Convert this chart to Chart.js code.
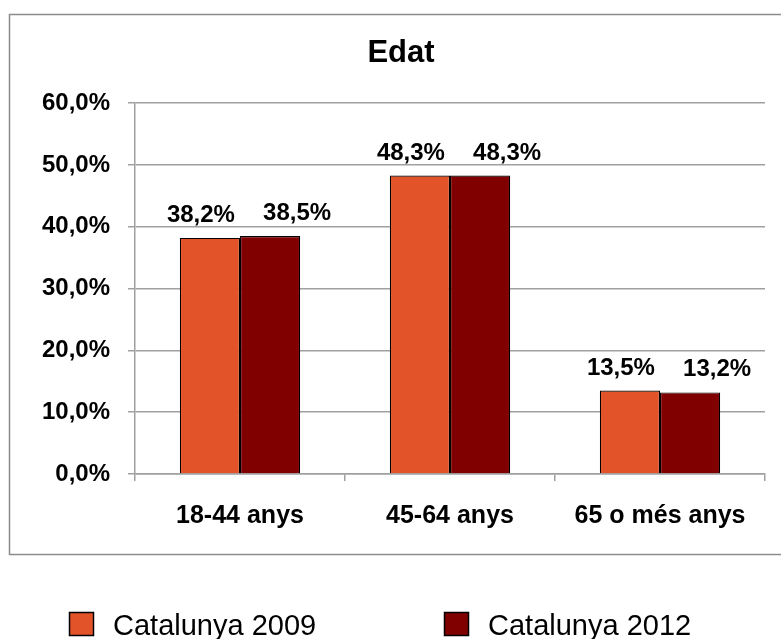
<!DOCTYPE html>
<html>
<head>
<meta charset="utf-8">
<script src="https://cdn.jsdelivr.net/npm/chart.js@4.4.1/dist/chart.umd.min.js"></script>
<style>
  html, body { margin: 0; padding: 0; background: #fff; }
  #wrap { width: 781px; height: 639px; position: relative; }
</style>
</head>
<body>
<div id="wrap"><canvas id="chart"></canvas></div>
<script>
const categories = ['18-44 anys', '45-64 anys', '65 o més anys'];
const seriesNames = ['Catalunya 2009', 'Catalunya 2012'];
const values2009 = [38.2, 48.3, 13.5];
const values2012 = [38.5, 48.3, 13.2];
const colors = ['#E2532A', '#800000'];

const FONT = '"Liberation Sans", Arial, sans-serif';

function pct(v) {
    return v.toFixed(1).replace('.', ',') + '%';
}

// outer frame, value labels and legend
const extras = {
    id: 'extras',
    beforeDraw(chart) {
        const ctx = chart.ctx;
        ctx.save();
        ctx.strokeStyle = '#8c8c8c';
        ctx.lineWidth = 1.5;
        ctx.strokeRect(9.5, 14.5, 800, 540);
        ctx.restore();
    },
    afterDatasetsDraw(chart) {
        const ctx = chart.ctx;
        // labels are pushed apart so neighbours don't collide
        const nudge = [-9, 27];
        ctx.save();
        ctx.font = 'bold 24px ' + FONT;
        ctx.fillStyle = '#000';
        ctx.textAlign = 'center';
        ctx.textBaseline = 'alphabetic';
        chart.data.datasets.forEach(function (ds, i) {
            chart.getDatasetMeta(i).data.forEach(function (bar, j) {
                ctx.fillText(pct(ds.data[j]), bar.x + nudge[i], bar.y - 16);
            });
        });
        ctx.restore();
    },
    afterDraw(chart) {
        const ctx = chart.ctx;
        const starts = [69, 444];
        ctx.save();
        ctx.font = '29px ' + FONT;
        ctx.textBaseline = 'alphabetic';
        chart.data.datasets.forEach(function (ds, i) {
            const x = starts[i];
            ctx.fillStyle = ds.backgroundColor;
            ctx.fillRect(x, 612, 25, 24);
            ctx.strokeStyle = '#000';
            ctx.lineWidth = 1.5;
            ctx.strokeRect(x + 0.5, 612.5, 24, 23);
            ctx.fillStyle = '#000';
            ctx.fillText(ds.label, x + 44, 635);
        });
        ctx.restore();
    }
};

new Chart(document.getElementById('chart'), {
    type: 'bar',
    data: {
        labels: categories,
        datasets: [
            {
                label: seriesNames[0],
                data: values2009,
                backgroundColor: colors[0],
                borderColor: '#000',
                borderWidth: 1.2
            },
            {
                label: seriesNames[1],
                data: values2012,
                backgroundColor: colors[1],
                borderColor: '#000',
                borderWidth: 1.2
            }
        ]
    },
    options: {
        responsive: true,
        maintainAspectRatio: false,
        animation: false,
        events: [],
        datasets: {
            bar: {
                categoryPercentage: 0.573,
                barPercentage: 1
            }
        },
        layout: {
            padding: { left: 37, right: 16, top: 0, bottom: 88 }
        },
        plugins: {
            legend: { display: false },
            tooltip: { enabled: false },
            title: {
                display: true,
                text: 'Edat',
                color: '#000',
                font: { family: FONT, size: 31, weight: 'bold' },
                padding: { top: 35, bottom: 31 }
            }
        },
        scales: {
            x: {
                grid: {
                    drawOnChartArea: false,
                    drawTicks: true,
                    tickLength: 7,
                    color: '#a0a0a0',
                    lineWidth: 1.5
                },
                border: { color: '#a0a0a0', width: 1.5 },
                ticks: {
                    color: '#000',
                    padding: 20,
                    font: { family: FONT, size: 25, weight: 'bold' }
                }
            },
            y: {
                min: 0,
                max: 60,
                afterFit: function (scale) { scale.width = 98; },
                grid: {
                    color: '#a0a0a0',
                    lineWidth: 1.5,
                    tickLength: 7
                },
                border: { color: '#a0a0a0', width: 1.5 },
                ticks: {
                    stepSize: 10,
                    color: '#000',
                    padding: 18,
                    font: { family: FONT, size: 24, weight: 'bold' },
                    callback: function (v) { return pct(v); }
                }
            }
        }
    },
    plugins: [extras]
});
</script>
</body>
</html>
